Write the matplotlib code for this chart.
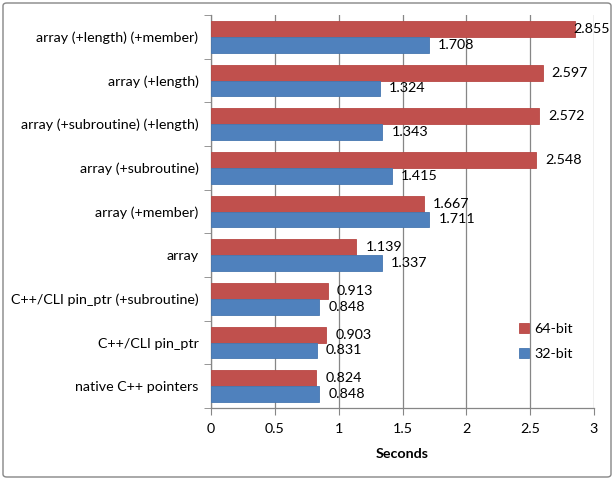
import numpy as np
import matplotlib.pyplot as plt
from matplotlib.patches import FancyBboxPatch

# Data (bottom to top)
categories = ['native C++ pointers',
              'C++/CLI pin_ptr',
              'C++/CLI pin_ptr (+subroutine)',
              'array',
              'array (+member)',
              'array (+subroutine)',
              'array (+subroutine) (+length)',
              'array (+length)',
              'array (+length) (+member)']
vals_64 = [0.824, 0.903, 0.913, 1.139, 1.667, 2.548, 2.572, 2.597, 2.855]
vals_32 = [0.848, 0.831, 0.848, 1.337, 1.711, 1.415, 1.343, 1.324, 1.708]
x_ticks = [0, 0.5, 1, 1.5, 2, 2.5, 3]

col_64 = '#C0504D'
col_32 = '#4F81BD'
grid_col = '#868686'
fs = 10.3

plt.rcParams['font.family'] = ['Lato', 'DejaVu Sans']

fig = plt.figure(figsize=(6.14, 4.8), dpi=100)
ax = fig.add_axes([211/614, 1-408/480, 383/614, 393/480])

y = np.arange(len(categories))
h = 0.364
ax.barh(y + h/2, vals_64, height=h, color=col_64, edgecolor='#B84845', linewidth=0.6, label='64-bit', zorder=3)
ax.barh(y - h/2, vals_32, height=h, color=col_32, edgecolor='#4677B0', linewidth=0.6, label='32-bit', zorder=3)

# data labels
for yi, v in zip(y, vals_64):
    ax.text(min(v + 0.07, 2.84), yi + h/2, f'{v:.3f}', va='center', ha='left', fontsize=fs, zorder=4)
for yi, v in zip(y, vals_32):
    ax.text(v + 0.07, yi - h/2, f'{v:.3f}', va='center', ha='left', fontsize=fs, zorder=4)

ax.set_xlim(0, 3)
ax.set_ylim(-0.5, len(categories) - 0.5)
ax.set_xticks(x_ticks)
ax.set_xticklabels(['0', '0.5', '1', '1.5', '2', '2.5', '3'], fontsize=fs)
ax.set_yticks(y)
ax.set_yticklabels(categories, fontsize=fs)
ax.set_yticks(np.arange(len(categories) + 1) - 0.5, minor=True)
ax.tick_params(axis='y', which='major', length=0, pad=9)
ax.tick_params(axis='y', which='minor', length=5, color=grid_col, direction='out')
ax.tick_params(axis='x', length=5, color=grid_col, direction='out', pad=6)
ax.grid(axis='x', color=grid_col, linewidth=0.9, zorder=0)

for s in ['top', 'right']:
    ax.spines[s].set_visible(False)
for s in ['left', 'bottom']:
    ax.spines[s].set_color(grid_col)
    ax.spines[s].set_linewidth(0.9)

ax.set_xlabel('Seconds', fontsize=fs, fontweight='bold', labelpad=9)

ax.legend(loc='lower left', bbox_to_anchor=(0.77, 0.09), frameon=False,
          fontsize=fs, handlelength=0.7, handleheight=0.7, handletextpad=0.4,
          labelspacing=0.9)

border = FancyBboxPatch((3/614, 3/480), 608/614, 474/480,
                        boxstyle='round,pad=0,rounding_size=0.006',
                        transform=fig.transFigure, facecolor='none',
                        edgecolor='#868686', linewidth=1.0)
fig.patches.append(border)

fig.savefig('out.png', dpi=100)
